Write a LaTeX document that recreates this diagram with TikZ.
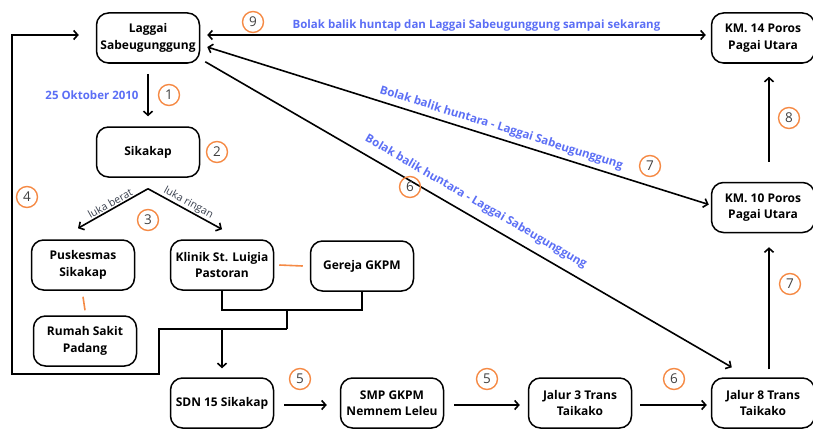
\documentclass[tikz,border=0pt]{standalone}
\usepackage{fontspec}
\setmainfont{Open Sans}
\usetikzlibrary{arrows.meta,calc}
\definecolor{lblue}{RGB}{91,110,245}
\definecolor{orng}{RGB}{245,138,69}
\definecolor{gtxt}{RGB}{55,62,76}
\begin{document}
\begin{tikzpicture}[x=1pt,y=-1pt,
 >={Straight Barb[length=4pt,width=9pt]},
 box/.style={draw, line width=1.5pt, rounded corners=12pt, minimum width=103pt, minimum height=50pt, align=center, font=\fontsize{12}{16.5}\selectfont\bfseries, inner sep=2pt},
 conn/.style={line width=1.6pt},
 arr/.style={line width=1.6pt,->},
 num/.style={circle, draw=orng, line width=1.4pt, minimum size=21pt, inner sep=0pt, font=\fontsize{13.5}{13.5}\selectfont, text=black!75},
 blab/.style={text=lblue, font=\fontsize{11.5}{13}\selectfont\bfseries, inner sep=1pt},
 glab/.style={text=gtxt, font=\fontsize{10.5}{12}\selectfont, inner sep=1pt},
 oline/.style={draw=orng, line width=1.6pt}]
\useasboundingbox (0,0) rectangle (813,428);
% nodes
\node[box] (lag) at (148,38) {Laggai\\Sabeugunggung};
\node[box] (sik) at (148,152) {Sikakap};
\node[box] (km14) at (763,38) {KM. 14 Poros\\Pagai Utara};
\node[box] (km10) at (763,207.5) {KM. 10 Poros\\Pagai Utara};
\node[box] (pus) at (83,265) {Puskesmas\\Sikakap};
\node[box] (rs) at (85,341) {Rumah Sakit\\Padang};
\node[box] (kli) at (222,265) {Klinik St. Luigia\\Pastoran};
\node[box] (ger) at (362,266) {Gereja GKPM};
\node[box] (sdn) at (222,403) {SDN 15 Sikakap};
\node[box] (smp) at (392,403) {SMP GKPM\\Nemnem Leleu};
\node[box] (jal3) at (580,403) {Jalur 3 Trans\\Taikako};
\node[box] (jal8) at (763,403) {Jalur 8 Trans\\Taikako};
% coordinates
\coordinate (sp) at ([yshift=-11pt]sik.south);
\coordinate (jm) at (287,310);
\coordinate (j2) at (287,329);
\coordinate (c1) at (159,374);
\coordinate (c2) at (12,35);
% connectors
\draw[arr] ([yshift=-10pt]lag.south) -- ([yshift=10pt]sik.north);
\draw[conn,<->] ([xshift=7pt,yshift=3pt]lag.east) -- ([xshift=-5pt,yshift=3pt]km14.west)
  node[pos=0.54, above=2pt, blab] {Bolak balik huntap dan Laggai Sabeugunggung sampai sekarang};
\draw[conn,<->] ([xshift=7pt,yshift=-9pt]lag.east) -- ([xshift=-2pt,yshift=3pt]km10.west)
  node[pos=0.58, sloped, above=3pt, blab] {Bolak balik huntara - Laggai Sabeugunggung};
\draw[arr] ([xshift=5pt,yshift=2pt]lag.south east) -- ([xshift=21pt,yshift=10pt]jal8.north west)
  node[pos=0.5, sloped, above=7pt, blab] {Bolak balik huntara - Laggai Sabeugunggung};
\draw[arr] (sp) -- ([xshift=-5pt,yshift=11pt]pus.north) node[midway, sloped, above=0pt, glab] {luka berat};
\draw[arr] (sp) -- ([yshift=10pt]kli.north) node[midway, sloped, above=0pt, glab] {luka ringan};
\draw[oline] ([yshift=-6pt]pus.south) -- ([yshift=5pt]rs.north);
\draw[oline] ([xshift=5pt]kli.east) -- ([xshift=-7pt]ger.west);
\draw[conn] (kli.south) |- (jm) -| (ger.south);
\draw[conn] (jm) -- (j2);
\draw[arr] (j2) -| (c1) -| (c2) -- ([xshift=-17pt,yshift=3pt]lag.west);
\draw[arr] (sdn.north |- j2) -- ([yshift=9pt]sdn.north);
\draw[arr] ([xshift=10pt,yshift=-2pt]sdn.east) -- ([xshift=-13pt,yshift=-2pt]smp.west);
\draw[arr] ([xshift=10pt,yshift=-2pt]smp.east) -- ([xshift=-8pt,yshift=-2pt]jal3.west);
\draw[arr] ([xshift=8pt,yshift=-2pt]jal3.east) -- ([xshift=-4pt,yshift=-2pt]jal8.west);
\draw[arr] ([xshift=6pt,yshift=8pt]jal8.north) -- ([xshift=6pt,yshift=-14pt]km10.south);
\draw[arr] ([xshift=6pt,yshift=20pt]km10.north) -- ([xshift=6pt,yshift=-13pt]km14.south);
% labels
\node[blab] (date) at (92,95) {25 Oktober 2010};
% numbers
\node[num] (n9) at (253,22) {9};
\node[num] (n1) at (169,95) {1};
\node[num] (n2) at (217,152) {2};
\node[num] (n3) at (148,220) {3};
\node[num] (n4) at (27,197) {4};
\node[num] (n6a) at (410,187) {6};
\node[num] (n7a) at (650,166) {7};
\node[num] (n8) at (789,118) {8};
\node[num] (n7b) at (790,284) {7};
\node[num] (n5a) at (300,379) {5};
\node[num] (n5b) at (487,379) {5};
\node[num] (n6b) at (674,379) {6};
\end{tikzpicture}
\end{document}
